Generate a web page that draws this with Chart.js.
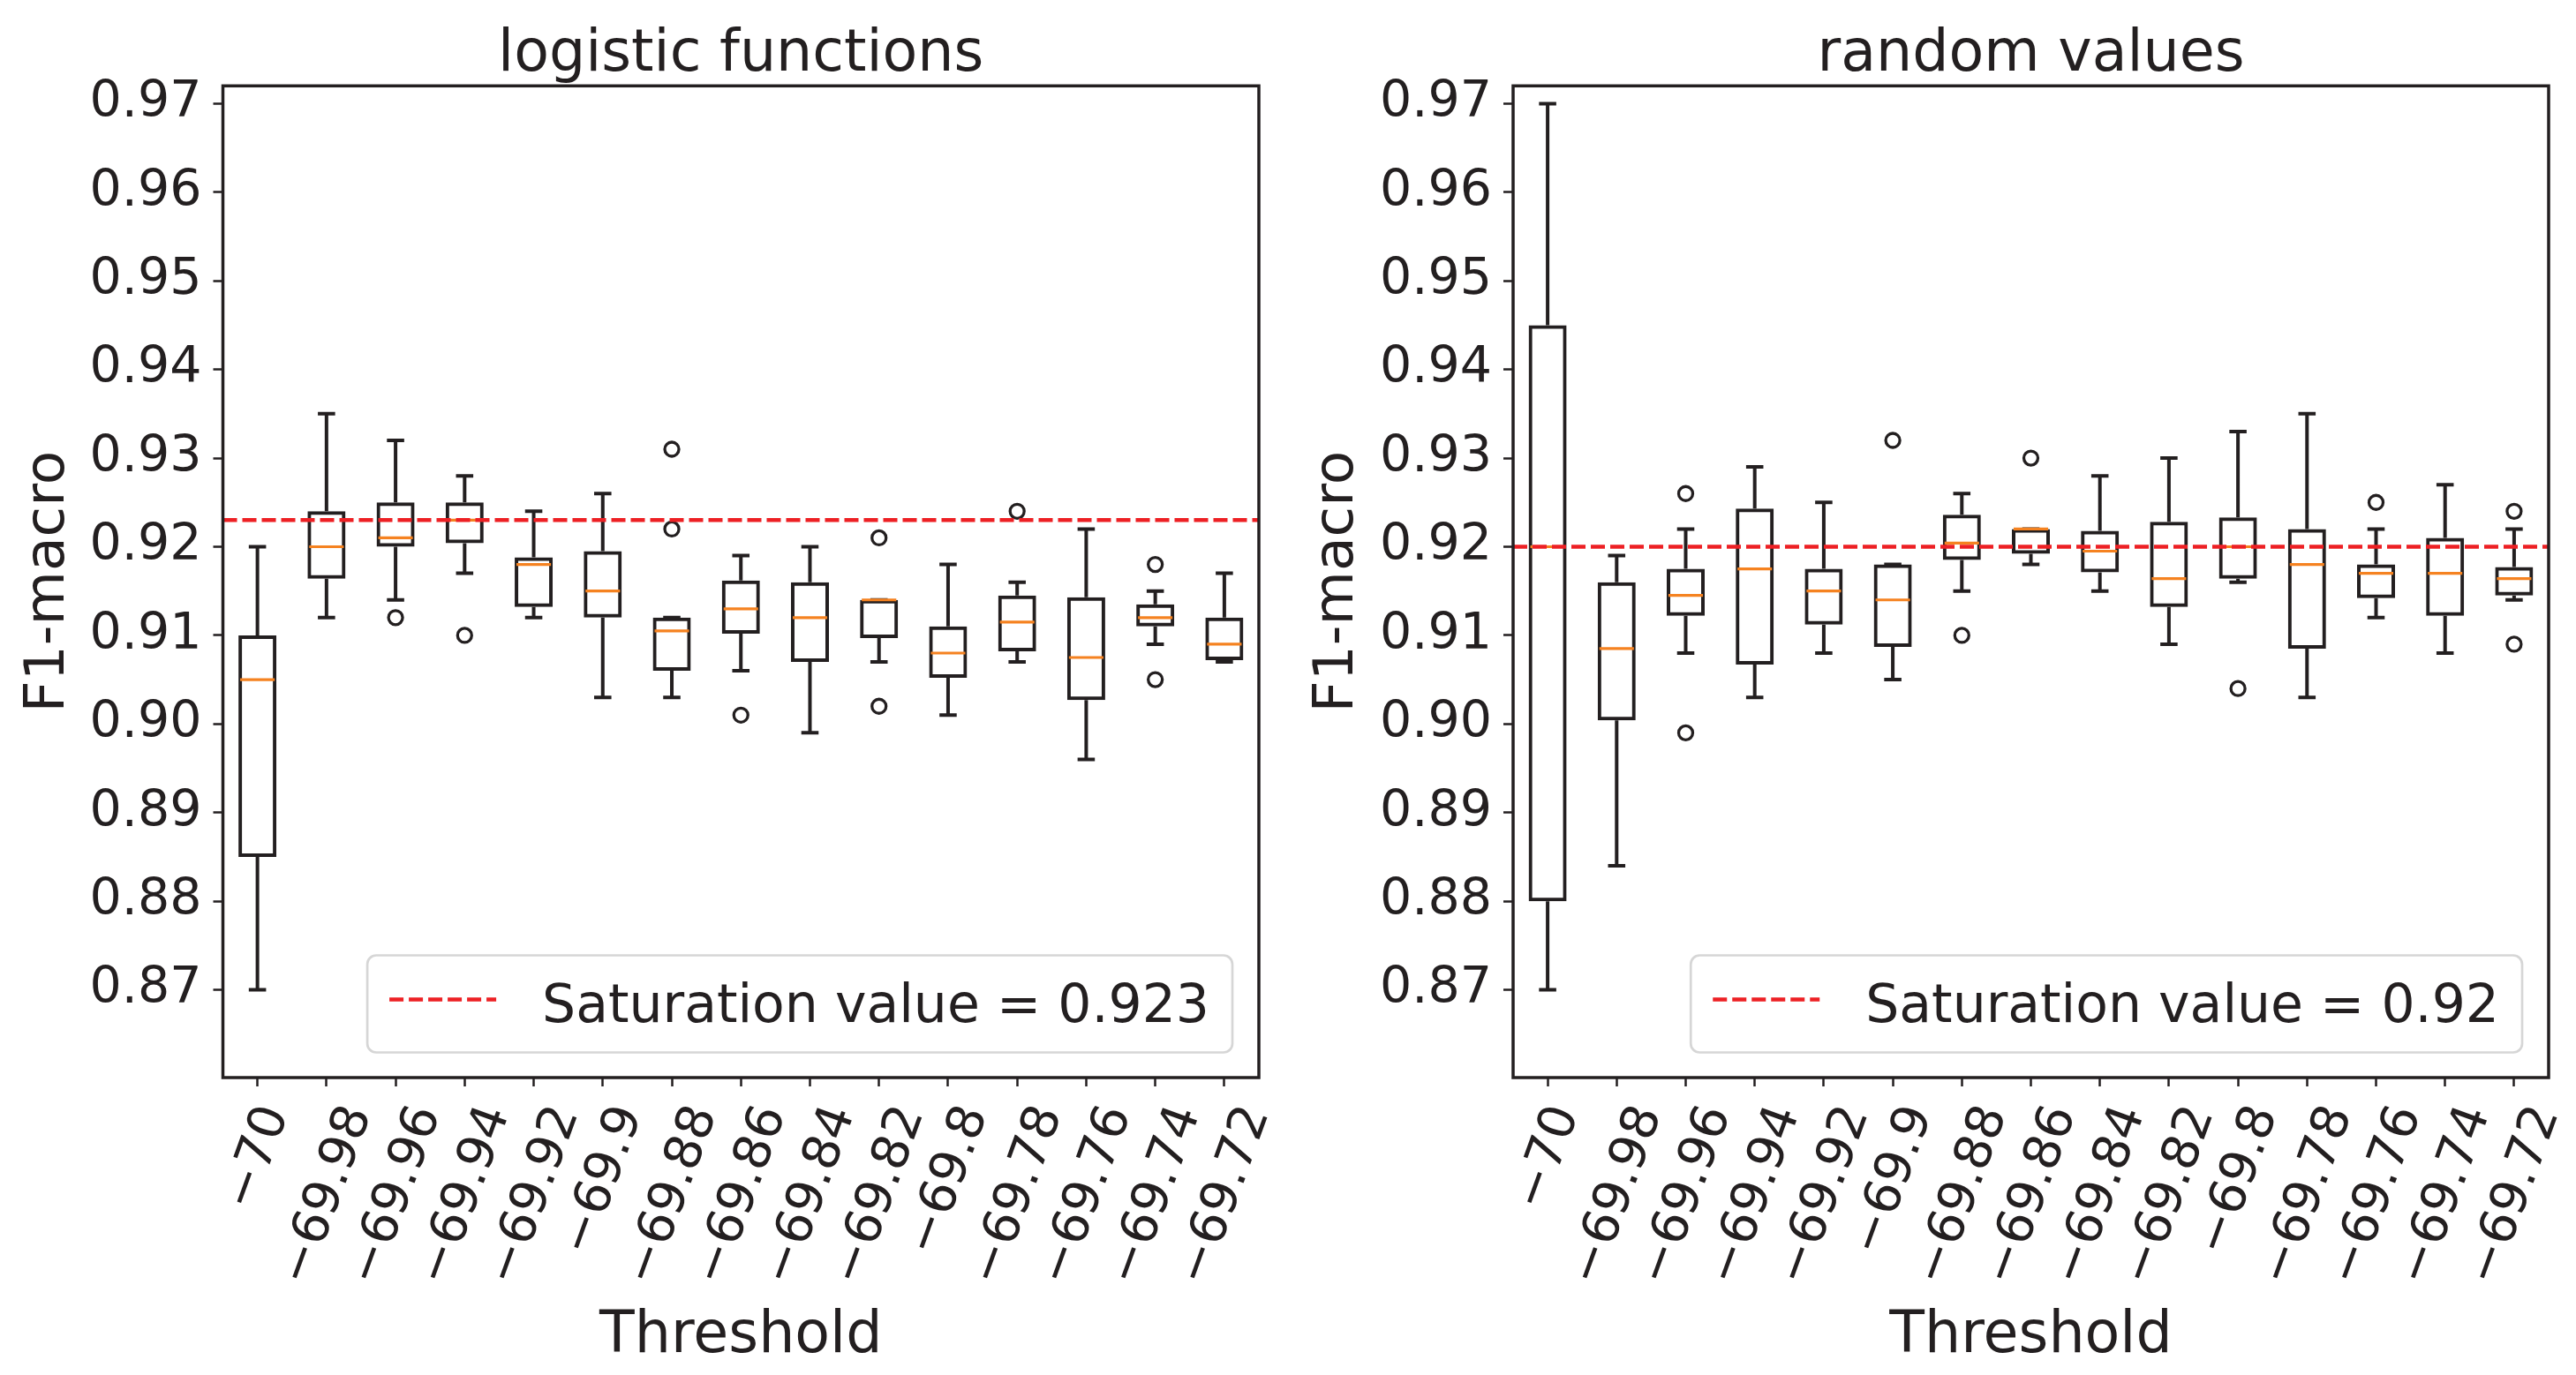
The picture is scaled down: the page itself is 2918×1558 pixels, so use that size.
<!DOCTYPE html>
<html>
<head>
<meta charset="utf-8">
<script src="https://cdn.jsdelivr.net/npm/chart.js@4.4.1/dist/chart.umd.min.js"></script>
<style>
  html, body { margin: 0; padding: 0; background: #fff; overflow: hidden; }
  .panel { position: absolute; top: 0; height: 1558px; }
  #left { left: 0; width: 1460px; }
  #right { left: 1460px; width: 1458px; }
</style>
</head>
<body>
<div class="panel" id="left"><canvas id="logChart"></canvas></div>
<div class="panel" id="right"><canvas id="randChart"></canvas></div>
<script>
let thresholds = ['\u221270', '\u221269.98', '\u221269.96', '\u221269.94', '\u221269.92', '\u221269.9',
    '\u221269.88', '\u221269.86', '\u221269.84', '\u221269.82', '\u221269.8', '\u221269.78',
    '\u221269.76', '\u221269.74', '\u221269.72'];
let yTicks = [0.87, 0.88, 0.89, 0.90, 0.91, 0.92, 0.93, 0.94, 0.95, 0.96, 0.97];

// logistic functions
let logLow = [0.870, 0.912, 0.914, 0.917, 0.912, 0.903, 0.903, 0.906, 0.899, 0.907, 0.901, 0.907, 0.896, 0.909, 0.907];
let logQ1 = [0.885, 0.9164, 0.920, 0.9204, 0.9132, 0.912, 0.906, 0.9102, 0.907, 0.9097, 0.9052, 0.9082, 0.9027, 0.911, 0.9072];
let logMed = [0.905, 0.920, 0.921, 0.923, 0.918, 0.915, 0.9105, 0.913, 0.912, 0.914, 0.908, 0.9115, 0.9075, 0.912, 0.909];
let logQ3 = [0.910, 0.924, 0.925, 0.925, 0.9188, 0.9195, 0.912, 0.9162, 0.916, 0.914, 0.911, 0.9145, 0.9143, 0.9135, 0.912];
let logHigh = [0.920, 0.935, 0.932, 0.928, 0.924, 0.926, 0.912, 0.919, 0.920, 0.914, 0.918, 0.916, 0.922, 0.915, 0.917];
let logOutliers = [[2, 0.912], [3, 0.910], [6, 0.931], [6, 0.922], [7, 0.901], [9, 0.921], [9, 0.902],
    [11, 0.924], [13, 0.918], [13, 0.905]];
let logSaturation = 0.923;

// random values
let randLow = [0.870, 0.884, 0.908, 0.903, 0.908, 0.905, 0.915, 0.918, 0.915, 0.909, 0.916, 0.903, 0.912, 0.908, 0.914];
let randQ1 = [0.880, 0.9004, 0.9122, 0.9067, 0.9112, 0.9087, 0.9185, 0.9192, 0.9171, 0.9132, 0.9164, 0.9085, 0.9142, 0.9122, 0.9145];
let randMed = [0.920, 0.9085, 0.9145, 0.9175, 0.915, 0.914, 0.9204, 0.922, 0.9195, 0.9164, 0.920, 0.918, 0.917, 0.917, 0.9164];
let randQ3 = [0.945, 0.916, 0.9175, 0.9243, 0.9175, 0.918, 0.9236, 0.922, 0.9218, 0.9228, 0.9233, 0.922, 0.918, 0.921, 0.9177];
let randHigh = [0.970, 0.919, 0.922, 0.929, 0.925, 0.918, 0.926, 0.922, 0.928, 0.930, 0.933, 0.935, 0.922, 0.927, 0.922];
let randOutliers = [[2, 0.926], [2, 0.899], [5, 0.932], [6, 0.910], [7, 0.930], [10, 0.904], [12, 0.925],
    [14, 0.924], [14, 0.909]];
let randSaturation = 0.92;

let ink = '#231f20';
let red = '#ed2024';
let orange = '#f58220';
let family = "'DejaVu Sans', sans-serif";

let boxParts = {
    id: 'boxParts',
    afterDatasetsDraw(chart, args, opts) {
        let ctx = chart.ctx;
        let area = chart.chartArea;
        let x = chart.scales.x;
        let y = chart.scales.y;
        let step = x.width / thresholds.length;
        ctx.save();
        ctx.lineCap = 'butt';

        // whiskers and caps
        ctx.strokeStyle = ink;
        ctx.lineWidth = 4;
        ctx.beginPath();
        for (let i = 0; i < opts.med.length; i++) {
            let px = x.getPixelForValue(i);
            let yLo = y.getPixelForValue(opts.low[i]);
            let yHi = y.getPixelForValue(opts.high[i]);
            ctx.moveTo(px, y.getPixelForValue(opts.q3[i]));
            ctx.lineTo(px, yHi);
            ctx.moveTo(px, y.getPixelForValue(opts.q1[i]));
            ctx.lineTo(px, yLo);
            ctx.moveTo(px - step * 0.125, yHi);
            ctx.lineTo(px + step * 0.125, yHi);
            ctx.moveTo(px - step * 0.125, yLo);
            ctx.lineTo(px + step * 0.125, yLo);
        }
        ctx.stroke();

        // medians
        ctx.strokeStyle = orange;
        ctx.lineWidth = 3.2;
        ctx.beginPath();
        for (let i = 0; i < opts.med.length; i++) {
            let px = x.getPixelForValue(i);
            let py = y.getPixelForValue(opts.med[i]);
            ctx.moveTo(px - step * 0.25, py);
            ctx.lineTo(px + step * 0.25, py);
        }
        ctx.stroke();

        // saturation line
        let sy = y.getPixelForValue(opts.saturation);
        ctx.strokeStyle = red;
        ctx.lineWidth = 4.5;
        ctx.setLineDash([16, 6]);
        ctx.beginPath();
        ctx.moveTo(area.left, sy);
        ctx.lineTo(area.right, sy);
        ctx.stroke();
        ctx.restore();
    },
    afterDraw(chart, args, opts) {
        let ctx = chart.ctx;
        let area = chart.chartArea;
        let x = chart.scales.x;
        ctx.save();

        // frame
        ctx.strokeStyle = ink;
        ctx.lineWidth = 3.5;
        ctx.strokeRect(area.left, area.top, area.right - area.left, area.bottom - area.top);

        // rotated tick labels, centred under the tick like matplotlib
        let theta = 70 * Math.PI / 180;
        let fs = 57;
        ctx.font = fs + 'px ' + family;
        ctx.fillStyle = ink;
        ctx.textAlign = 'center';
        ctx.textBaseline = 'alphabetic';
        thresholds.forEach((t, i) => {
            let px = x.getPixelForValue(i);
            let w = ctx.measureText(t).width;
            let bh = w * Math.sin(theta) + fs * Math.cos(theta);
            ctx.save();
            ctx.translate(px, area.bottom + 25 + bh / 2);
            ctx.rotate(-theta);
            ctx.fillText(t, 0, fs * 0.27);
            ctx.restore();
        });

        // legend
        let text = 'Saturation value = ' + opts.saturation;
        ctx.font = '60px ' + family;
        let tw = ctx.measureText(text).width;
        let w = 224 + tw;
        let h = 110;
        let left = area.right - 30 - w;
        let top = area.bottom - 28.5 - h;
        ctx.beginPath();
        ctx.roundRect(left, top, w, h, 10);
        ctx.fillStyle = 'rgba(255,255,255,0.8)';
        ctx.fill();
        ctx.strokeStyle = '#d6d6d6';
        ctx.lineWidth = 2.7;
        ctx.stroke();

        ctx.strokeStyle = red;
        ctx.lineWidth = 4.5;
        ctx.setLineDash([16, 6]);
        ctx.beginPath();
        ctx.moveTo(left + 25, top + 50);
        ctx.lineTo(left + 146, top + 50);
        ctx.stroke();

        ctx.fillStyle = ink;
        ctx.textAlign = 'left';
        ctx.fillText(text, left + 198, top + 75);
        ctx.restore();
    }
};

function makePanel(id, title, low, q1, med, q3, high, outliers, saturation, padRight, axisWidth) {
    let ctx = document.getElementById(id).getContext('2d');
    let boxes = q1.map((v, i) => [v, q3[i]]);
    let fliers = outliers.map((o) => ({ x: thresholds[o[0]], y: o[1] }));

    return new Chart(ctx, {
        data: {
            labels: thresholds,
            datasets: [{
                type: 'bar',
                data: boxes,
                backgroundColor: 'rgba(0,0,0,0)',
                borderColor: ink,
                borderWidth: 4,
                borderSkipped: false,
                inflateAmount: 0,
                barPercentage: 0.55,
                categoryPercentage: 1.0
            }, {
                type: 'scatter',
                data: fliers,
                xAxisID: 'x',
                yAxisID: 'y',
                pointStyle: 'circle',
                pointRadius: 8,
                pointBorderWidth: 3.3,
                pointBorderColor: ink,
                pointBackgroundColor: 'rgba(0,0,0,0)'
            }]
        },
        options: {
            responsive: true,
            maintainAspectRatio: false,
            devicePixelRatio: 1,
            animation: false,
            events: [],
            layout: { padding: { left: 0, right: padRight, top: 0, bottom: 0 } },
            scales: {
                x: {
                    type: 'category',
                    offset: true,
                    grid: { display: true, offset: false, drawOnChartArea: false, drawTicks: true,
                        tickLength: 10, tickWidth: 2.5, tickColor: ink },
                    border: { display: false },
                    ticks: { display: false },
                    title: { display: true, text: 'Threshold', color: ink,
                        font: { family: family, size: 65, lineHeight: 1 }, padding: { top: 0, bottom: 10 } },
                    afterFit: (scale) => { scale.height = 337; }
                },
                y: {
                    type: 'linear',
                    min: 0.8601,
                    max: 0.9720,
                    grid: { display: true, drawOnChartArea: false, drawTicks: true,
                        tickLength: 11, tickWidth: 2.5, tickColor: ink },
                    border: { display: false },
                    ticks: { color: ink, padding: 13, font: { family: family, size: 57 },
                        callback: (v) => v.toFixed(2) },
                    afterBuildTicks: (scale) => { scale.ticks = yTicks.map((v) => ({ value: v })); },
                    title: { display: true, text: 'F1-macro', color: ink,
                        font: { family: family, size: 63, lineHeight: 1 }, padding: { top: 24.5, bottom: 0 } },
                    afterFit: (scale) => { scale.width = axisWidth; }
                }
            },
            plugins: {
                legend: { display: false },
                tooltip: { enabled: false },
                title: {
                    display: true,
                    text: title,
                    color: ink,
                    fullSize: false,
                    font: { family: family, size: 65, weight: 'normal', lineHeight: 1 },
                    padding: { top: 31, bottom: 1.3 }
                },
                boxParts: { low: low, q1: q1, med: med, q3: q3, high: high, saturation: saturation }
            }
        },
        plugins: [boxParts]
    });
}

makePanel('logChart', 'logistic functions', logLow, logQ1, logMed, logQ3, logHigh, logOutliers, logSaturation, 34, 252.5);
makePanel('randChart', 'random values', randLow, randQ1, randMed, randQ3, randHigh, randOutliers, randSaturation, 31, 254);
</script>
</body>
</html>
